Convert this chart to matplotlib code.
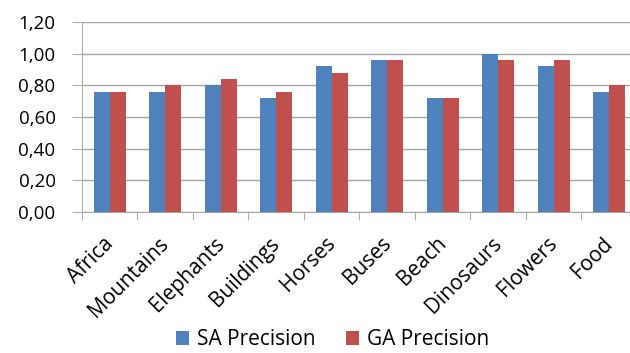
import numpy as np
import matplotlib.pyplot as plt
import matplotlib.transforms as mtransforms
from matplotlib.ticker import FuncFormatter

categories = ['Africa', 'Mountains', 'Elephants', 'Buildings', 'Horses',
              'Buses', 'Beach', 'Dinosaurs', 'Flowers', 'Food']
sa_precision = [0.76, 0.76, 0.80, 0.72, 0.92, 0.96, 0.72, 1.00, 0.92, 0.76]
ga_precision = [0.76, 0.80, 0.84, 0.76, 0.88, 0.96, 0.72, 0.96, 0.96, 0.80]
y_ticks = [0.0, 0.2, 0.4, 0.6, 0.8, 1.0, 1.2]

plt.rcParams['font.family'] = ['Open Sans', 'DejaVu Sans']

fig = plt.figure(figsize=(6.3, 3.53), dpi=100)
ax = fig.add_axes([0.130, 0.399, 0.881, 0.539])

x = np.arange(len(categories))
w = 0.29
ax.bar(x - w / 2, sa_precision, w, color='#4F81BD', label='SA Precision', zorder=3)
ax.bar(x + w / 2, ga_precision, w, color='#C0504D', label='GA Precision', zorder=3)

ax.set_xlim(-0.5, len(categories) - 0.5)
ax.set_ylim(0, 1.2)
ax.set_yticks(y_ticks)
ax.yaxis.set_major_formatter(FuncFormatter(lambda v, p: f'{v:.2f}'.replace('.', ',')))
ax.grid(axis='y', color='#a6a6a6', linewidth=1, zorder=0)

# category boundaries as x ticks
ax.set_xticks(np.arange(len(categories) + 1) - 0.5)
ax.set_xticklabels([])
ax.set_xticks(x, minor=True)
ax.set_xticklabels(categories, minor=True, rotation=45, ha='right',
                   rotation_mode='anchor', fontsize=15)
ax.tick_params(axis='x', which='minor', length=0, pad=15)
ax.tick_params(axis='x', which='major', length=6, color='#b0b0b0')
ax.tick_params(axis='y', length=7, color='#b0b0b0', labelsize=13.5, pad=12)

# nudge the rotated names a little to the left
shift = mtransforms.ScaledTranslation(-5 / 72, 0, fig.dpi_scale_trans)
for lbl in ax.get_xticklabels(minor=True):
    lbl.set_transform(lbl.get_transform() + shift)

for side in ['top', 'right']:
    ax.spines[side].set_visible(False)
ax.spines['left'].set_color('#b0b0b0')
ax.spines['bottom'].set_color('#a6a6a6')

fig.legend(loc='lower center', bbox_to_anchor=(0.528, -0.045), ncol=2, frameon=False,
           fontsize=15, handlelength=0.62, handleheight=0.62, columnspacing=1.5,
           handletextpad=0.36)

plt.savefig('out.png', dpi=100)
